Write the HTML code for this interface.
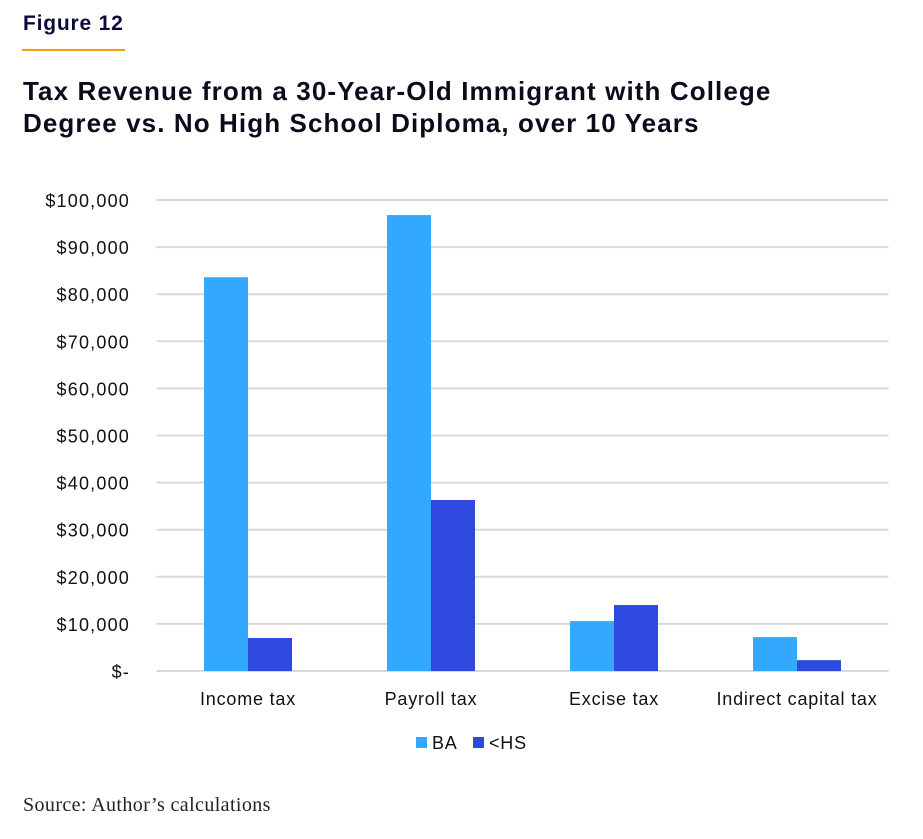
<!DOCTYPE html>
<html><head><meta charset="utf-8"><style>
body{margin:0;width:923px;height:839px;background:#fff;font-family:"Liberation Sans",sans-serif;overflow:hidden;position:relative}
.abs{position:absolute}
</style></head><body>
<div class="abs" style="left:23px;top:12px;font-size:21px;letter-spacing:0.8px;font-weight:bold;color:#0b0b3b">Figure 12</div>
<div class="abs" style="left:22px;top:49px;width:103px;height:2px;background:#f39c12"></div>
<div class="abs" style="left:23px;top:75px;font-size:26px;letter-spacing:1.1px;font-weight:bold;color:#0b0b1b;line-height:32px;white-space:nowrap">Tax Revenue from a 30-Year-Old Immigrant with College<br>Degree vs. No High School Diploma, over 10 Years</div>
<svg class="abs" style="left:0;top:0" width="923" height="839">
<g id="grid"></g><g id="bars"></g><g id="labels"></g>
</svg>
<div class="abs" style="left:23px;top:794px;font-family:'Liberation Serif',serif;font-size:20px;letter-spacing:0.4px;color:#222">Source: Author’s calculations</div>
<script>
const categories=["Income tax","Payroll tax","Excise tax","Indirect capital tax"];
const baValues=[83600,96800,10600,7200];
const hsValues=[7000,36300,14000,2300];
const yTicks=[0,10000,20000,30000,40000,50000,60000,70000,80000,90000,100000];
const tickLabels=["$-","$10,000","$20,000","$30,000","$40,000","$50,000","$60,000","$70,000","$80,000","$90,000","$100,000"];
const NS="http://www.w3.org/2000/svg";
const x0=156.5,x1=888.5,yb=671,yt=200;
const y=v=>yb-(v/100000)*(yb-yt);
const band=(x1-x0)/categories.length;
const cx=i=>x0+band*(i+0.5);
function mk(t,a,p){const e=document.createElementNS(NS,t);for(const k in a)e.setAttribute(k,a[k]);p.appendChild(e);return e;}
const g=document.getElementById('grid'),b=document.getElementById('bars'),l=document.getElementById('labels');
yTicks.forEach((v,i)=>{
 const ln=mk('line',{x1:x0,x2:x1,y1:y(v),y2:y(v),stroke:'#d9d9d9','stroke-width':2},g);
 
 
 const t=mk('text',{x:130,y:y(v)+7,'text-anchor':'end','font-size':18,'letter-spacing':1.2,fill:'#111'},l);
 t.textContent=tickLabels[i];
 
 
});
const bw=44;
categories.forEach((c,i)=>{
 const r1=mk('rect',{x:cx(i)-bw,y:y(baValues[i]),width:bw,height:yb-y(baValues[i]),fill:'#33a8ff'},b);
 
 
 const r2=mk('rect',{x:cx(i),y:y(hsValues[i]),width:bw,height:yb-y(hsValues[i]),fill:'#2e49dd'},b);
 
 
 const t=mk('text',{x:cx(i),y:705,'text-anchor':'middle','font-size':18,'letter-spacing':0.8,fill:'#111'},l);
 t.textContent=c;
 
 
});
const leg=[["BA","#33a8ff",416],["<HS","#2e49dd",473]];
leg.forEach(([n,c,x])=>{
 const r=mk('rect',{x:x,y:737,width:11,height:11,fill:c},l);
 
 
 const t=mk('text',{x:x+16,y:749,'font-size':18,'letter-spacing':0.8,fill:'#111'},l);
 t.textContent=n;
 
 
});
</script>
</body></html>
